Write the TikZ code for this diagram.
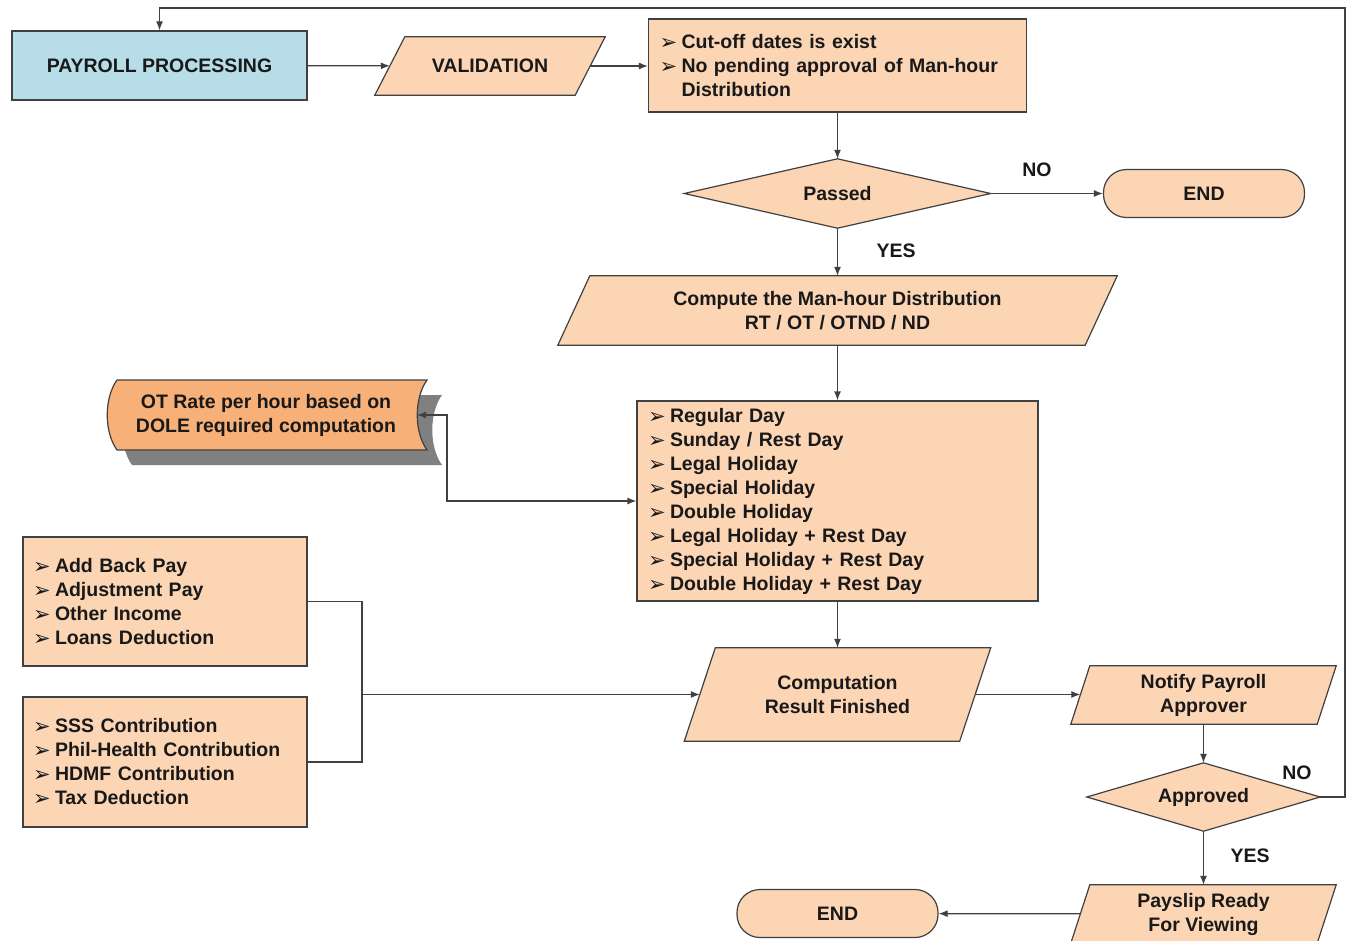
\documentclass[tikz,border=0pt]{standalone}
\usepackage{fontspec}
\setmainfont{Liberation Sans}
\newfontfamily\dejavu{DejaVu Sans}
\usepackage{tikz}
\usetikzlibrary{positioning,shapes,arrows.meta,calc,backgrounds}
\definecolor{peach}{RGB}{252,213,181}
\definecolor{paleblue}{RGB}{183,221,232}
\definecolor{otorange}{RGB}{247,176,120}
\definecolor{edgegray}{RGB}{64,64,64}
\definecolor{shadowgray}{RGB}{128,128,128}
\newcommand{\itm}[1]{\makebox[22pt][l]{\raisebox{-1pt}{\dejavu\fontsize{21}{21}\selectfont ➢}}#1}
% parallelogramme et losange derriere un noeud
\newcommand{\parafill}[2]{\draw[box] ($(#1.north west)+(#2,0)$) -- ($(#1.north east)+(#2,0)$)
  -- ($(#1.south east)-(#2,0)$) -- ($(#1.south west)-(#2,0)$) -- cycle;}
\newcommand{\diamfill}[1]{\draw[box] (#1.west) -- (#1.north) -- (#1.east) -- (#1.south) -- cycle;}

\begin{document}
\begin{tikzpicture}[x=1pt,y=-1pt]
  \tikzstyle{every node}=[font=\bfseries\fontsize{19.5}{24}\selectfont, text=black!90, inner sep=0pt, align=center]
  \tikzstyle{box}=[draw=edgegray, line width=1.2pt, fill=peach]
  \tikzstyle{listbox}=[box, rectangle, align=left, inner xsep=11pt]
  \tikzstyle{para}=[rectangle]
  \tikzstyle{decision}=[rectangle, minimum width=306pt, minimum height=69pt]
  \tikzstyle{term}=[box, rectangle, rounded corners=23pt, minimum width=201pt, minimum height=48pt]
  \tikzstyle{line}=[draw=edgegray, line width=1.2pt]
  \tikzstyle{arr}=[line, -{Latex[length=9pt,width=7pt]}]

  \useasboundingbox (0,0) rectangle (1348,941);

  % haut
  \node[box, fill=paleblue, minimum width=295pt, minimum height=69pt] (payroll) at (159.5,65.5) {PAYROLL PROCESSING};
  \node[para, minimum width=200pt, minimum height=58pt] (valid) at (490,66) {VALIDATION};
  \node[listbox, text width=356pt, minimum height=93pt] (cutoff) at (837.5,65.5)
    {\itm{Cut-off dates is exist}\\ \itm{No pending approval of Man-hour}\\ \hspace*{22pt}Distribution};

  \node[decision] (passed) at (837.5,193.5) {Passed};
  \node[term] (endA) at (1204,193.5) {END};
  \node (noA) at (1037,170) {NO};
  \node (yesA) at (896,251) {YES};

  \node[para, minimum width=527pt, minimum height=69pt] (manhour) at (837.5,310.5)
    {Compute the Man-hour Distribution\\RT / OT / OTND / ND};

  % jours
  \node[listbox, text width=379pt, minimum height=200pt] (days) at (837.5,501)
    {\itm{Regular Day}\\ \itm{Sunday / Rest Day}\\ \itm{Legal Holiday}\\ \itm{Special Holiday}\\
     \itm{Double Holiday}\\ \itm{Legal Holiday + Rest Day}\\ \itm{Special Holiday + Rest Day}\\
     \itm{Double Holiday + Rest Day}};

  % taux OT
  \fill[shadowgray] (132,395) .. controls (119,413) and (119,447) .. (132,465)
    -- (442,465) .. controls (429,447) and (429,413) .. (442,395) -- cycle;
  \draw[line, fill=otorange] (117,380) .. controls (104,398) and (104,432) .. (117,450)
    -- (427,450) .. controls (414,432) and (414,398) .. (427,380) -- cycle;
  \node[minimum width=302pt, minimum height=70pt] (ot) at (266,415)
    {OT Rate per hour based on\\DOLE required computation};
  \coordinate (otbend) at (447,415);

  % gauche
  \node[listbox, inner xsep=10pt, text width=264pt, minimum height=129pt] (adds) at (165,601.5)
    {\itm{Add Back Pay}\\ \itm{Adjustment Pay}\\ \itm{Other Income}\\ \itm{Loans Deduction}};
  \node[listbox, inner xsep=10pt, text width=264pt, minimum height=130pt] (deds) at (165,762)
    {\itm{SSS Contribution}\\ \itm{Phil-Health Contribution}\\ \itm{HDMF Contribution}\\ \itm{Tax Deduction}};
  \coordinate (join) at (362,694.5);

  % bas
  \node[para, minimum width=275pt, minimum height=93pt] (result) at (837.5,694.5) {Computation\\Result Finished};
  \node[para, minimum width=246pt, minimum height=58pt] (notify) at (1203.5,695) {Notify Payroll\\Approver};
  \node[decision, minimum width=233pt, minimum height=68pt] (approved) at (1203.5,797) {Approved};
  \node (noB) at (1297,773) {NO};
  \node (yesB) at (1250,856) {YES};
  \node[para, minimum width=246pt, minimum height=58pt] (payslip) at (1203.5,914) {Payslip Ready\\For Viewing};
  \node[term] (endB) at (837.5,913.5) {END};
  \coordinate (loopr) at (1345,8);

  \begin{pgfonlayer}{background}
    \parafill{valid}{15}
    \parafill{manhour}{16}
    \parafill{result}{15.5}
    \parafill{notify}{9.5}
    \parafill{payslip}{9.5}
    \diamfill{passed}
    \diamfill{approved}
  \end{pgfonlayer}

  % liens
  \draw[arr] (payroll) -- (valid);
  \draw[arr] (valid.east) -- (valid.east -| cutoff.west);
  \draw[arr] (cutoff) -- (passed);
  \draw[arr] (passed) -- (endA);
  \draw[arr] (passed) -- (manhour);
  \draw[arr] (manhour) -- (days);
  \draw[line, {Latex[length=9pt,width=7pt]}-{Latex[length=9pt,width=7pt]}] (days.west) -| (otbend) -- (ot.east);
  \draw[line] (adds.east) -| (join);
  \draw[line] (deds.east) -| (join);
  \draw[arr] (join) -- (join -| result.west);
  \draw[arr] (days) -- (result);
  \draw[arr] (result.east) -- (result.east -| notify.west);
  \draw[arr] (notify) -- (approved);
  \draw[arr] (approved) -- (payslip);
  \draw[arr] (payslip) -- (endB);
  \draw[arr] (approved.east) -| (loopr) -| (payroll.north);
\end{tikzpicture}
\end{document}
